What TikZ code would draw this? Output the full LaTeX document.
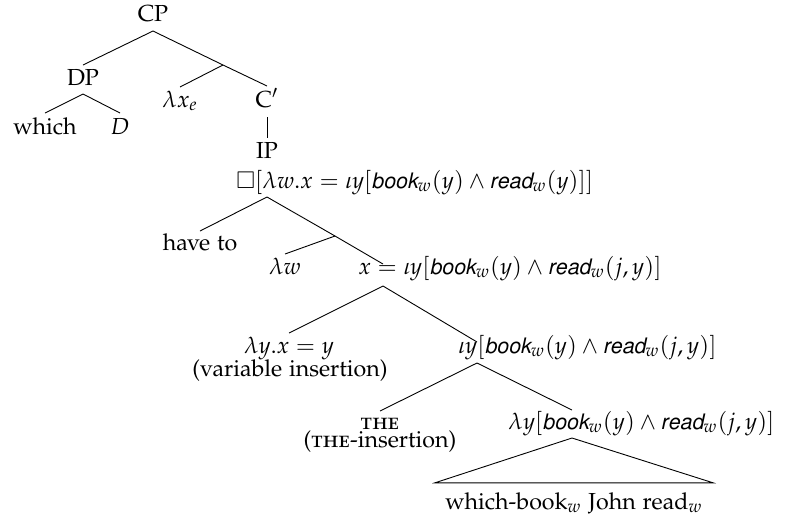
\documentclass[tikz,border=0pt]{standalone}
\usepackage[T1]{fontenc}
\usepackage{amsmath,amssymb}
\usepackage[sc]{mathpazo}
\usepackage[scaled=0.92]{helvet}
\usetikzlibrary{positioning,calc}
\newcommand{\pred}[1]{\text{\sffamily\itshape #1}}

\begin{document}
\begin{tikzpicture}[x=0.5pt,y=-0.5pt,every node/.style={inner sep=0pt,anchor=base,font=\fontsize{11.6}{14}\selectfont},lab/.style={anchor=base west},br/.style={line width=0.45pt}]
\useasboundingbox (0,0) rectangle (785,515);
% upper part
\node (CP) at (153,21) {CP};
\node (DP) at (83,85) {DP};
\node (which) at (45,134) {which};
\node (D) at (120,134) {$D$};
\node (lx) at (180,107) {$\lambda x_e$};
\node (Cbar) at (267,107) {C$'$};
\node (IP) at (267,158) {IP};
\coordinate (c1) at (223,65);
\draw[br] ([yshift=-5pt]CP.base) -- ([yshift=10pt]DP.base);
\draw[br] ([yshift=-5pt]CP.base) -- (c1) -- ([yshift=10.5pt]Cbar.base);
\draw[br] (c1) -- ([yshift=10pt]lx.base);
\draw[br] ([yshift=-4.5pt]DP.base) -- ([yshift=10.5pt]which.base);
\draw[br] ([yshift=-4.5pt]DP.base) -- ([yshift=10.5pt]D.base);
\draw[br] ([yshift=-5pt]Cbar.base) -- ([yshift=10pt]IP.base);
% modal
\node[lab] (box) at (236,188) {$\Box[\lambda w.x=\iota y[\pred{book}_w(y)\wedge\pred{read}_w(y)]]$};
\node (haveto) at (200,250) {have to};
\node (lw) at (285,274) {$\lambda w$};
\node[lab] (xeq) at (358,274) {$x=\iota y[\pred{book}_w(y)\wedge\pred{read}_w(j,y)]$};
\coordinate (c2) at (335,236);
\draw[br] ([shift={(15.5pt,-4.5pt)}]box.base west) -- ([yshift=9.5pt]haveto.base);
\draw[br] ([shift={(15.5pt,-4.5pt)}]box.base west) -- (c2) -- ([shift={(12.5pt,5pt)}]xeq.base west);
\draw[br] (c2) -- ([yshift=10pt]lw.base);
% iota
\node (lyx) at (289,353) {$\lambda y.x=y$};
\node (varins) at (290,376) {(variable insertion)};
\node[lab] (iota) at (458,353) {$\iota y[\pred{book}_w(y)\wedge\pred{read}_w(j,y)]$};
\draw[br] ([shift={(12.5pt,-6pt)}]xeq.base west) -- ([yshift=10pt]lyx.base);
\draw[br] ([shift={(12.5pt,-6pt)}]xeq.base west) -- ([shift={(9.5pt,5.5pt)}]iota.base west);
% the
\node (the) at (380,429) {\textsc{the}};
\node (theins) at (380,447) {(\textsc{the}-insertion)};
\node[lab] (lyb) at (508,429) {$\lambda y[\pred{book}_w(y)\wedge\pred{read}_w(j,y)]$};
\draw[br] ([shift={(9.5pt,-5pt)}]iota.base west) -- ([yshift=9pt]the.base);
\draw[br] ([shift={(9.5pt,-5pt)}]iota.base west) -- ([shift={(32pt,9.5pt)}]lyb.base west);
% triangle
\node (wb) at (574,509) {which-book$_w$ John read$_w$};
\draw[br] ([shift={(-5pt,4.5pt)}]wb.north west) -- ([shift={(32pt,-4.5pt)}]lyb.base west) -- ([shift={(5pt,4.5pt)}]wb.north east) -- cycle;
\end{tikzpicture}
\end{document}
